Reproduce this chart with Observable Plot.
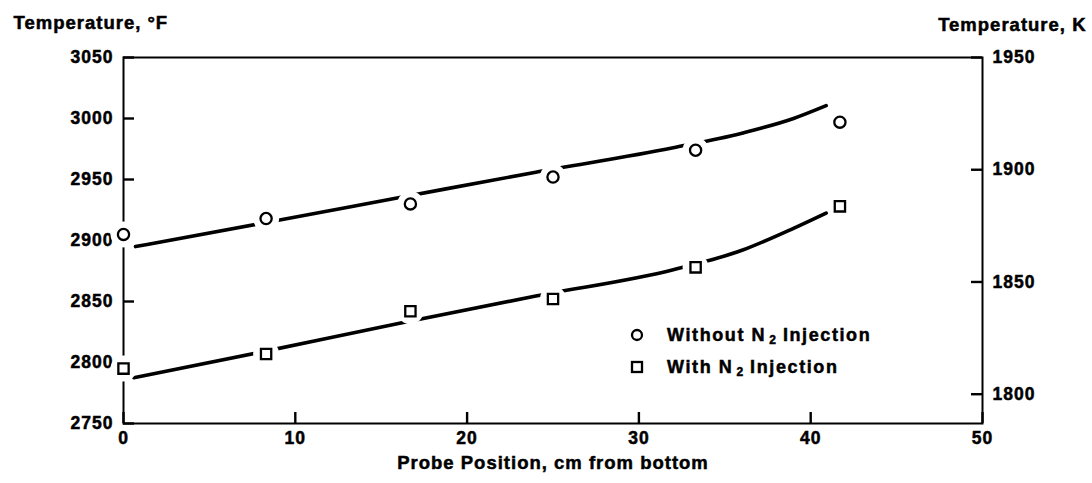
<!DOCTYPE html>
<html>
<head>
<meta charset="utf-8">
<script src="https://cdn.jsdelivr.net/npm/d3@7"></script>
<script src="https://cdn.jsdelivr.net/npm/@observablehq/plot@0.6"></script>
<style>
  html, body { margin: 0; padding: 0; background: #fff; }
  #wrap { position: relative; width: 1092px; height: 483px; font-family: "Liberation Sans", Arial, Helvetica, sans-serif; }
  #legend { position: absolute; left: 626px; top: 322px; font-size: 18px; font-weight: bold; letter-spacing: 1.6px; color: #000; -webkit-text-stroke: 0.5px #000; }
  #legend .row { position: relative; height: 32px; line-height: 26px; white-space: nowrap; }
  #legend svg { position: absolute; left: 0; top: 2px; }
  #legend .lab { position: absolute; left: 41px; top: 0; }
  #legend sub { font-size: 12px; vertical-align: -3px; letter-spacing: 0; margin-left: 3px; margin-right: 7px; }
</style>
</head>
<body>
<div id="wrap"></div>
<script>
// ---- data ----
const probeX = [0, 8.3, 16.7, 25, 33.3, 41.7];                 // cm from bottom
const withoutN2 = [2905, 2918, 2930, 2952, 2974, 2997];        // °F, circles
const withN2 = [2795, 2807, 2842, 2852, 2878, 2928];           // °F, squares

// fitted curves
const upperFitX = [0.7, 8, 16, 24, 32, 36, 39, 40.9];
const upperFitF = [2895, 2914, 2935, 2956, 2976, 2988, 3000, 3010.5];
const lowerFitX = [0.6, 8, 16, 24, 32, 36, 39, 40.9];
const lowerFitF = [2787.5, 2808.5, 2832, 2854.5, 2876, 2892, 2910, 2922.5];

// tick labels
const xTicks = [0, 10, 20, 30, 40, 50];
const fTicks = [2750, 2800, 2850, 2900, 2950, 3000, 3050];
const kTicks = [1800, 1850, 1900, 1950];

// right-axis mapping as drawn (1950 K at the top, 50 K per ~92 °F)
const kTop = 1950, fTop = 3050, fPerK = 1.84;
const kToF = k => fTop - (kTop - k) * fPerK;
const fToK = f => kTop - (fTop - f) / fPerK;

const pts = (xs, ys) => xs.map((x, i) => ({x, y: ys[i]}));
const circles = pts(probeX, withoutN2);
const squares = pts(probeX, withN2);
const upperFit = pts(upperFitX, upperFitF);
const lowerFit = pts(lowerFitX, lowerFitF);

const W = 1092, H = 483, mL = 123, mR = 110, mT = 57, mB = 60;
const frameW = W - mL - mR, frameH = H - mT - mB, tick = 11;

const chart = Plot.plot({
  width: W,
  height: H,
  marginLeft: mL,
  marginRight: mR,
  marginTop: mT,
  marginBottom: mB,
  style: {
    fontFamily: '"Liberation Sans", Arial, Helvetica, sans-serif',
    fontSize: "17.5px",
    fontWeight: "bold",
    letterSpacing: "1px",
    background: "white",
    color: "black",
    overflow: "visible"
  },
  x: {domain: [0, 50]},
  y: {domain: [2750, 3050]},
  marks: [
    Plot.frame({stroke: "black", strokeWidth: 2}),
    // inward ticks
    Plot.tickX(xTicks, {x: d => d, insetTop: frameH - tick, stroke: "black", strokeWidth: 2.4}),
    Plot.tickY(fTicks, {y: d => d, insetRight: frameW - tick, stroke: "black", strokeWidth: 2.4}),
    Plot.tickY(kTicks.map(kToF), {y: d => d, insetLeft: frameW - tick, stroke: "black", strokeWidth: 2.4}),
    // tick labels
    Plot.axisX({ticks: xTicks, tickSize: 0, tickPadding: 8, label: null, tickFormat: d => String(d)}),
    Plot.axisY({anchor: "left", ticks: fTicks, tickSize: 0, tickPadding: 10, label: null, tickFormat: d => String(d)}),
    Plot.axisY({anchor: "right", ticks: kTicks.map(kToF), tickSize: 0, tickPadding: 10, label: null,
      tickFormat: d => String(Math.round(fToK(d)))}),
    Plot.line(upperFit, {x: "x", y: "y", curve: "monotone-x", stroke: "black", strokeWidth: 3.6}),
    Plot.line(lowerFit, {x: "x", y: "y", curve: "monotone-x", stroke: "black", strokeWidth: 3.6}),
    // white halos that break the lines/frame around the markers
    Plot.dot(circles, {x: "x", y: "y", r: 13, fill: "white", stroke: "none"}),
    Plot.dot(squares, {x: "x", y: "y", r: 13, fill: "white", stroke: "none"}),
    Plot.dot(circles, {x: "x", y: "y", r: 5.6, fill: "white", stroke: "black", strokeWidth: 2.3}),
    Plot.dot(squares, {x: "x", y: "y", r: 5.8, symbol: "square", fill: "white", stroke: "black", strokeWidth: 2.3}),
    Plot.text(["Temperature, °F"], {frameAnchor: "top-left", lineAnchor: "middle", dx: -110, dy: -34, textAnchor: "start", fontSize: 18.5, ariaLabel: "title-left"}),
    Plot.text(["Temperature, K"], {frameAnchor: "top-right", lineAnchor: "middle", dx: 104, dy: -32, textAnchor: "end", fontSize: 18.5, ariaLabel: "title-right"}),
    Plot.text(["Probe Position, cm from bottom"], {frameAnchor: "bottom", lineAnchor: "middle", dy: 40, fontSize: 18.5, ariaLabel: "title-x"})
  ]
});

d3.select(chart).selectAll('g[aria-label^="title"] text').style("letter-spacing", "1.9px");
d3.select(chart).selectAll("text").style("stroke", "black").style("stroke-width", "0.5px");
document.getElementById("wrap").appendChild(chart);

// legend
const legend = document.createElement("div");
legend.id = "legend";
legend.innerHTML = `
  <div class="row"><svg width="22" height="22"><circle cx="11" cy="11" r="5" fill="white" stroke="black" stroke-width="2.3"/></svg>
    <span class="lab">Without N<sub>2</sub>Injection</span></div>
  <div class="row"><svg width="22" height="22"><rect x="6" y="6" width="10" height="10" fill="white" stroke="black" stroke-width="2.3"/></svg>
    <span class="lab">With N<sub>2</sub>Injection</span></div>`;
document.getElementById("wrap").appendChild(legend);
</script>
</body>
</html>
